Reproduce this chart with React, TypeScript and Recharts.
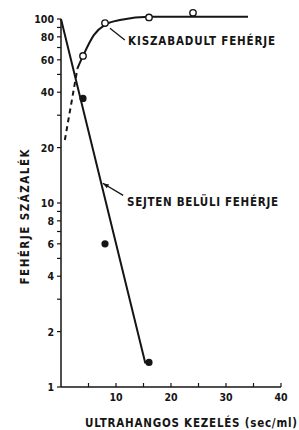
import React from 'react';
import { ComposedChart, Line, Scatter, XAxis, YAxis, ReferenceLine, ReferenceDot } from 'recharts';

// Tick definitions
const xTicks = [5, 10, 15, 20, 25, 30, 35, 40];
const xLabeled = [10, 20, 30, 40];
const yTicks = [1, 2, 3, 4, 5, 6, 7, 8, 9, 10, 20, 30, 40, 50, 60, 70, 80, 90, 100];
const yLabeled = [1, 2, 4, 6, 8, 10, 20, 40, 60, 80, 100];

// Intracellular protein (SEJTEN BELÜLI FEHÉRJE)
const intraLineX = [0, 15.3, 16];
const intraLineY = [100, 1.36, 1.36];
const intraPtsX = [4, 8, 16];
const intraPtsY = [37, 6, 1.36];

// Released protein (KISZABADULT FEHÉRJE)
const relDashX = [0.7, 3];
const relDashY = [22, 54];
const relCurveX = [3, 4, 6, 8, 11, 16, 34];
const relCurveY = [54, 63, 82, 93, 99, 103, 103];
const relPtsX = [4, 8, 16, 24];
const relPtsY = [63, 95, 102, 108];

const zip = (xs: number[], ys: number[]) => xs.map((x, i) => ({ x, y: ys[i] }));

const intraLine = zip(intraLineX, intraLineY);
const intraPts = zip(intraPtsX, intraPtsY);
const relDash = zip(relDashX, relDashY);
const relCurve = zip(relCurveX, relCurveY);
const relPts = zip(relPtsX, relPtsY);

const FONT = '"DejaVu Sans Condensed", "DejaVu Sans", sans-serif';
const INK = '#151515';

const XTick = (props: any) => {
  const { x, y, payload } = props;
  const v = payload.value;
  return (
    <g>
      <line x1={x} x2={x} y1={y} y2={y - 4} stroke={INK} strokeWidth={1.2} />
      {xLabeled.includes(v) && (
        <text x={x} y={y + 14} textAnchor="middle" fontFamily={FONT} fontWeight="bold" fontSize={10.5} fill={INK}>
          {v}
        </text>
      )}
    </g>
  );
};

const YTick = (props: any) => {
  const { x, y, payload } = props;
  const v = payload.value;
  return (
    <g>
      <line x1={x - 4} x2={x} y1={y} y2={y} stroke={INK} strokeWidth={1.2} />
      {yLabeled.includes(v) && (
        <text x={x - 7} y={y + 4} textAnchor="end" fontFamily={FONT} fontWeight="bold" fontSize={10.5} fill={INK}>
          {v}
        </text>
      )}
    </g>
  );
};

const filledDot = (p: any) => <circle cx={p.cx} cy={p.cy} r={3.6} fill={INK} />;
const openDot = (p: any) => <circle cx={p.cx} cy={p.cy} r={3.2} fill="#fff" stroke={INK} strokeWidth={1.4} />;

const textShape = (label: string, len: number) => (p: any) => (
  <text x={p.cx} y={p.cy + 4} fontFamily={FONT} fontWeight="bold" fontSize={11.5} fill={INK} textLength={len} lengthAdjust="spacing">
    {label}
  </text>
);

const arrowShape = (p: any) => {
  const { cx, cy } = p;
  return (
    <polygon
      points={`${cx},${cy} ${cx + 4.0},${cy + 5.0} ${cx + 6.3},${cy + 1.2}`}
      fill={INK}
    />
  );
};

const XLabel = (props: any) => {
  const { viewBox } = props;
  const cx = viewBox.x + viewBox.width / 2 + 20;
  return (
    <text x={cx} y={viewBox.y + 40} textAnchor="middle" fontFamily={FONT} fontWeight="bold" fontSize={11.5} fill={INK} textLength={212} lengthAdjust="spacing">
      ULTRAHANGOS KEZELÉS (sec/ml)
    </text>
  );
};

const YLabel = () => (
  <text x={0} y={0} transform="translate(29,217) rotate(-90)" textAnchor="middle" fontFamily={FONT} fontWeight="bold" fontSize={11.5} fill={INK} textLength={135} lengthAdjust="spacing">
    FEHÉRJE SZÁZALÉK
  </text>
);

export default function App() {
  return (
    <div style={{ position: 'absolute', left: 0, top: 0, background: '#fff' }}>
      <ComposedChart width={299} height={430} margin={{ top: 11.4, right: 18, bottom: 13, left: 21 }}>
        <XAxis
          type="number"
          dataKey="x"
          domain={[0, 40]}
          ticks={xTicks}
          interval={0}
          tickSize={0}
          tickMargin={0}
          tickLine={false}
          tick={<XTick />}
          axisLine={{ stroke: INK, strokeWidth: 1.5 }}
          height={30}
          label={<XLabel />}
        />
        <YAxis
          type="number"
          dataKey="y"
          scale="log"
          domain={[1, 110]}
          ticks={yTicks}
          interval={0}
          tickSize={0}
          tickMargin={0}
          tickLine={false}
          tick={<YTick />}
          axisLine={false}
          width={40}
          label={<YLabel />}
        />
        <ReferenceLine segment={[{ x: 0, y: 1 }, { x: 0, y: 100 }]} stroke={INK} strokeWidth={1.5} />

        <Line data={intraLine} dataKey="y" type="linear" stroke={INK} strokeWidth={2} dot={false} isAnimationActive={false} />
        <Line data={relDash} dataKey="y" type="linear" stroke={INK} strokeWidth={2} strokeDasharray="5 4" dot={false} isAnimationActive={false} />
        <Line data={relCurve} dataKey="y" type="monotone" stroke={INK} strokeWidth={2} dot={false} isAnimationActive={false} />
        <Scatter data={intraPts} dataKey="y" shape={filledDot} isAnimationActive={false} />
        <Scatter data={relPts} dataKey="y" shape={openDot} isAnimationActive={false} />

        <ReferenceLine segment={[{ x: 8.9, y: 89 }, { x: 11.6, y: 77 }]} stroke={INK} strokeWidth={1.3} />
        <ReferenceDot x={12.2} y={75.9} r={0} shape={textShape('KISZABADULT FEHÉRJE', 147)} />
        <ReferenceLine segment={[{ x: 7.6, y: 12.8 }, { x: 11.3, y: 11 }]} stroke={INK} strokeWidth={1.3} />
        <ReferenceDot x={7.6} y={12.8} r={0} shape={arrowShape} />
        <ReferenceDot x={12} y={10.1} r={0} shape={textShape('SEJTEN BELÜLI FEHÉRJE', 151)} />
      </ComposedChart>
    </div>
  );
}
